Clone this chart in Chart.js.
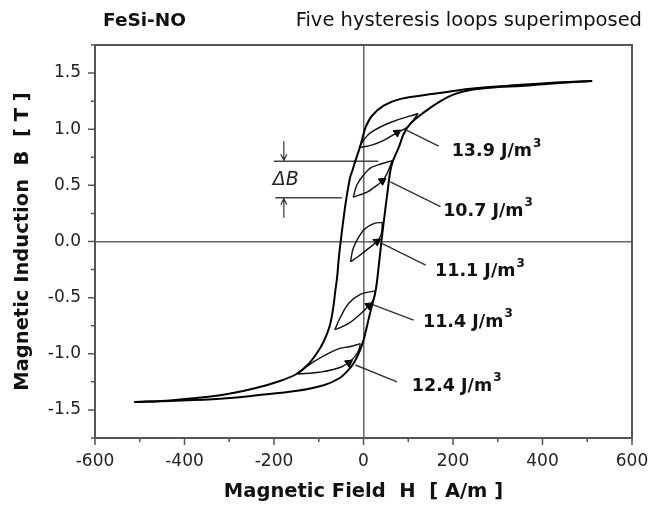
<!DOCTYPE html>
<html>
<head>
<meta charset="utf-8">
<script src="https://cdn.jsdelivr.net/npm/chart.js@4"></script>
<style>
  html, body { margin: 0; padding: 0; background: #fff; }
  #wrap { width: 650px; height: 508px; }
</style>
</head>
<body>
<div id="wrap"><canvas id="loopChart" width="650" height="508"></canvas></div>
<script>
// main loop, ascending branch (H in A/m, B in T)
const hUp = [-512, -432, -320, -238, -148, -89, -55, -35, -20, -9, 0, 8, 17, 27, 34, 40, 46, 53, 60, 66, 79, 90, 105, 135, 172, 202, 239, 300, 351, 430, 511];
const bUp = [-1.43, -1.42, -1.40, -1.37, -1.33, -1.28, -1.22, -1.15, -1.07, -0.98, -0.88, -0.75, -0.6, -0.44, -0.22, 0, 0.2, 0.42, 0.63, 0.72, 0.84, 0.96, 1.05, 1.15, 1.25, 1.31, 1.35, 1.375, 1.385, 1.41, 1.43];
// main loop, descending branch
const hDown = [511, 430, 351, 239, 157, 83, 45, 19, 5, -3, -8, -18, -25, -30, -40, -47, -51, -55, -59, -63, -68, -76, -90, -105, -125, -150, -185, -245, -320, -432, -512];
const bDown = [1.43, 1.415, 1.395, 1.36, 1.315, 1.27, 1.21, 1.12, 1.02, 0.91, 0.84, 0.72, 0.63, 0.57, 0.34, 0.13, 0, -0.14, -0.32, -0.44, -0.6, -0.76, -0.9, -1.0, -1.1, -1.18, -1.24, -1.31, -1.37, -1.415, -1.43];

// minor loops: [H, B] pairs, upper and lower edge from tip to tip
const loopEnergy = [13.9, 10.7, 11.1, 11.4, 12.4];
const loopUpper = [
  [[-10, 0.835], [0, 0.9], [16, 0.97], [60, 1.06], [122, 1.14]],
  [[-23, 0.395], [-14, 0.51], [4, 0.61], [16, 0.655], [31, 0.68], [64, 0.72]],
  [[-29, -0.18], [-22, -0.05], [0, 0.10], [23, 0.16], [42, 0.17]],
  [[-64, -0.785], [-51, -0.67], [-33, -0.55], [-7, -0.47], [27, -0.44]],
  [[-147, -1.18], [-111, -1.07], [-59, -0.96], [-29, -0.935], [-7, -0.91]]
];
const loopLower = [
  [[-10, 0.835], [20, 0.86], [45, 0.9], [75, 0.97], [98, 1.02], [122, 1.14]],
  [[-23, 0.395], [8, 0.44], [23, 0.48], [42, 0.54], [52, 0.6], [64, 0.72]],
  [[-29, -0.18], [-14, -0.14], [15, -0.05], [32, 0.01], [40, 0.07], [42, 0.17]],
  [[-64, -0.785], [-33, -0.73], [-7, -0.645], [12, -0.57], [22, -0.52], [27, -0.44]],
  [[-147, -1.18], [-100, -1.165], [-51, -1.12], [-25, -1.05], [-12, -0.98], [-7, -0.91]]
];
// arrow heads on the lower edges
const arrowAt = [[75, 0.97], [42, 0.54], [30, 0.0], [12, -0.57], [-33, -1.08]];
// leader lines and label anchors
const leaderFrom = [[97, 0.99], [60, 0.53], [42, -0.02], [16, -0.555], [-18, -1.10]];
const leaderTo = [[168, 0.85], [172, 0.31], [139, -0.21], [112, -0.70], [75, -1.25]];
const labelAt = [[197, 0.80], [178, 0.27], [160, -0.27], [133, -0.72], [108, -1.29]];

// ΔB marker levels
const deltaB = [0.715, 0.39];

const xTicks = [-600, -400, -200, 0, 200, 400, 600];
const xMinor = [-500, -300, -100, 100, 300, 500];
const yTicks = [-1.5, -1.0, -0.5, 0.0, 0.5, 1.0, 1.5];
const yMinor = [-1.75, -1.25, -0.75, -0.25, 0.25, 0.75, 1.25, 1.75];

const FONT = "'DejaVu Sans', sans-serif";

function pts(h, b) { return h.map((v, i) => ({ x: v, y: b[i] })); }
function pairs(list) { return list.map(p => ({ x: p[0], y: p[1] })); }

const datasets = [
  { data: pts(hUp, bUp), borderColor: '#000', borderWidth: 2, tension: 0.35 },
  { data: pts(hDown, bDown), borderColor: '#000', borderWidth: 2, tension: 0.35 }
];
loopUpper.forEach((edge, i) => {
  datasets.push({ data: pairs(edge), borderColor: '#111', borderWidth: 1.4, tension: 0.4 });
  datasets.push({ data: pairs(loopLower[i]), borderColor: '#111', borderWidth: 1.4, tension: 0.4 });
});
leaderFrom.forEach((p, i) => {
  datasets.push({ data: pairs([p, leaderTo[i]]), borderColor: '#333', borderWidth: 1.4, tension: 0 });
});
// ΔB horizontal lines
datasets.push({ data: pairs([[-200, deltaB[0]], [33, deltaB[0]]]), borderColor: '#444', borderWidth: 1.4 });
datasets.push({ data: pairs([[-197, deltaB[1]], [-48, deltaB[1]]]), borderColor: '#444', borderWidth: 1.4 });
datasets.forEach(d => { d.showLine = true; d.pointRadius = 0; d.fill = false; });
datasets.push({
  data: pairs(arrowAt), showLine: false, pointStyle: 'triangle', pointRadius: 4.5,
  rotation: 55, backgroundColor: '#000', borderColor: '#000', borderWidth: 1
});

// frame, minor/major ticks, annotations
const decor = {
  id: 'decor',
  afterDraw(chart) {
    const { ctx, chartArea: a, scales: { x, y } } = chart;
    ctx.save();
    ctx.strokeStyle = '#555';
    ctx.lineWidth = 2;
    ctx.strokeRect(a.left, a.top, a.right - a.left, a.bottom - a.top);

    ctx.lineWidth = 1.5;
    ctx.beginPath();
    xTicks.forEach(v => { const px = x.getPixelForValue(v); ctx.moveTo(px, a.bottom); ctx.lineTo(px, a.bottom + 7); });
    xMinor.forEach(v => { const px = x.getPixelForValue(v); ctx.moveTo(px, a.bottom); ctx.lineTo(px, a.bottom + 4); });
    yTicks.forEach(v => { const py = y.getPixelForValue(v); ctx.moveTo(a.left, py); ctx.lineTo(a.left - 7, py); });
    yMinor.forEach(v => { const py = y.getPixelForValue(v); ctx.moveTo(a.left, py); ctx.lineTo(a.left - 4, py); });
    ctx.stroke();

    // titles
    ctx.fillStyle = '#111';
    ctx.textBaseline = 'middle';
    ctx.font = "bold 18.5px " + FONT;
    ctx.textAlign = 'left';
    ctx.fillText('FeSi-NO', 103, 21);
    ctx.font = "19.5px " + FONT;
    ctx.textAlign = 'right';
    ctx.fillText('Five hysteresis loops superimposed', 642, 21);

    // loop energy labels with superscript
    ctx.textAlign = 'left';
    labelAt.forEach((p, i) => {
      const px = x.getPixelForValue(p[0]);
      const py = y.getPixelForValue(p[1]);
      const txt = loopEnergy[i].toFixed(1) + ' J/m';
      ctx.font = "bold 17.5px " + FONT;
      ctx.fillText(txt, px, py);
      const w = ctx.measureText(txt).width;
      ctx.font = "bold 12px " + FONT;
      ctx.fillText('3', px + w + 1, py - 8);
    });

    // ΔB arrows and text
    const ax = x.getPixelForValue(-178);
    const yTop = y.getPixelForValue(deltaB[0]);
    const yBot = y.getPixelForValue(deltaB[1]);
    ctx.strokeStyle = '#333';
    ctx.lineWidth = 1.2;
    ctx.beginPath();
    ctx.moveTo(ax, yTop - 20); ctx.lineTo(ax, yTop);
    ctx.moveTo(ax, yBot + 20); ctx.lineTo(ax, yBot);
    ctx.moveTo(ax - 3, yTop - 7); ctx.lineTo(ax, yTop - 1); ctx.lineTo(ax + 3, yTop - 7);
    ctx.moveTo(ax - 3, yBot + 7); ctx.lineTo(ax, yBot + 1); ctx.lineTo(ax + 3, yBot + 7);
    ctx.stroke();
    ctx.font = "italic 19px " + FONT;
    ctx.textAlign = 'center';
    ctx.fillStyle = '#222';
    ctx.fillText('\u0394B', ax + 2, (yTop + yBot) / 2 + 1);
    ctx.restore();
  }
};

const zeroLine = c => (c.tick && c.tick.value === 0) ? '#666' : 'rgba(0,0,0,0)';

new Chart(document.getElementById('loopChart'), {
  type: 'scatter',
  data: { datasets },
  options: {
    responsive: false,
    animation: false,
    devicePixelRatio: 1,
    layout: { padding: { top: 45, right: 18, left: 0, bottom: 0 } },
    plugins: { legend: { display: false }, tooltip: { enabled: false } },
    scales: {
      x: {
        type: 'linear', position: 'bottom', min: -600, max: 600,
        afterBuildTicks: s => { s.ticks = xTicks.map(v => ({ value: v })); },
        afterFit: s => { s.height = 70; s.paddingLeft = 0; s.paddingRight = 0; },
        ticks: { font: { family: FONT, size: 17 }, color: '#222', padding: 13, maxRotation: 0, autoSkip: false },
        grid: { color: zeroLine, lineWidth: 1.5, drawTicks: false },
        border: { display: false },
        title: { display: true, text: 'Magnetic Field  H  [ A/m ]', color: '#111',
                 font: { family: FONT, size: 19.5, weight: 'bold' }, padding: { top: 0, bottom: 4 } }
      },
      y: {
        type: 'linear', position: 'left', min: -1.75, max: 1.75,
        afterBuildTicks: s => { s.ticks = yTicks.map(v => ({ value: v })); },
        afterFit: s => { s.width = 95; s.paddingTop = 0; s.paddingBottom = 0; },
        ticks: { font: { family: FONT, size: 17 }, color: '#222', padding: 14,
                 callback: v => Number(v).toFixed(1) },
        grid: { color: zeroLine, lineWidth: 1.5, drawTicks: false },
        border: { display: false },
        title: { display: true, text: 'Magnetic Induction  B  [ T ]', color: '#111',
                 font: { family: FONT, size: 19.5, weight: 'bold' }, padding: { top: 11, bottom: 0 } }
      }
    }
  },
  plugins: [decor]
});
</script>
</body>
</html>
